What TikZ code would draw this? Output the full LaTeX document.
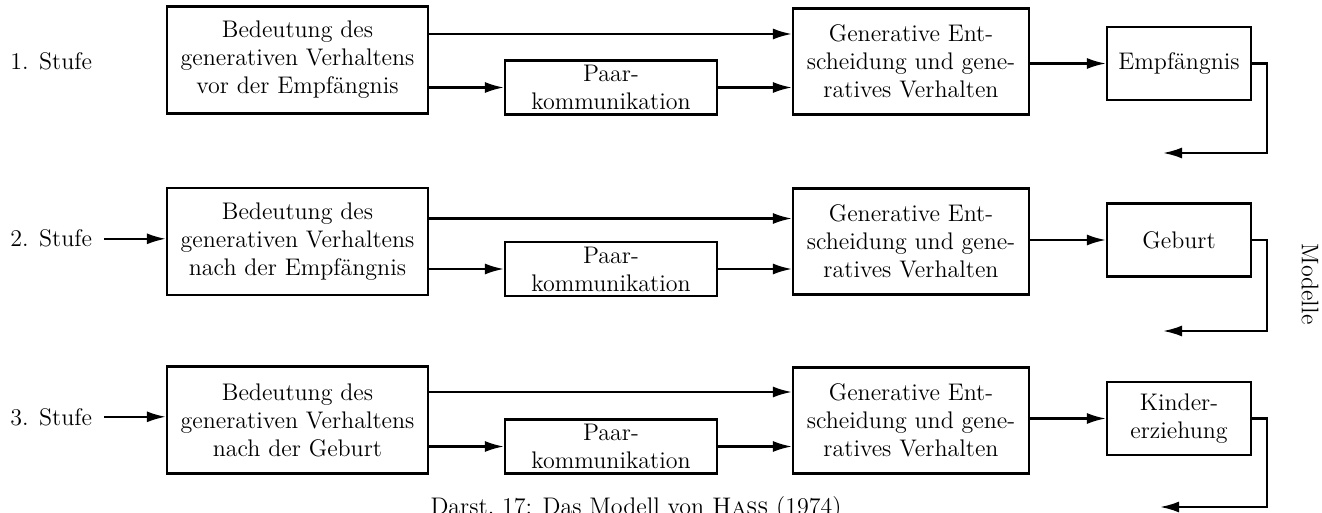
\documentclass[tikz,border=0pt]{standalone}
\usepackage{tikz}
\usetikzlibrary{positioning, arrows.meta}

\begin{document}
\begin{tikzpicture}[x=0.5pt, y=-0.5pt, >={Latex[length=9.5pt,width=5.5pt]},
    every node/.style={font=\fontsize{12}{14}\selectfont},
    box/.style={draw, line width=1.1pt, align=center, inner sep=2pt},
    bed/.style={box, minimum width=130.5pt, minimum height=53.5pt},
    paar/.style={box, minimum width=106pt, minimum height=27pt, inner sep=0pt},
    ent/.style={box, minimum width=118pt, minimum height=53pt},
    res/.style={box, minimum width=72pt, minimum height=36.5pt},
    stufe/.style={anchor=base west, inner sep=0pt},
    flow/.style={->, line width=1.1pt}]

  \useasboundingbox (0,0) rectangle (1322,513);

  % 1. Stufe
  \node[stufe] (S1) at (10,70) {1. Stufe};
  \node[bed] (A1) at (297.5,60) {Bedeutung des\\generativen Verhaltens\\vor der Empfängnis};
  \node[paar] (P1) at (611,87.5) {Paar-\\kommunikation};
  \node[ent] (C1) at (911,61.5) {Generative Ent-\\scheidung und gene-\\ratives Verhalten};
  \node[res] (E1) at (1179,63.5) {Empfängnis};
  \coordinate (R1) at (1163,153);
  \draw[flow] ([yshift=13pt]A1.east) -- ([yshift=13pt]A1.east -| C1.west);
  \draw[flow] (A1.east |- P1.west) -- (P1.west);
  \draw[flow] (P1.east) -- (P1.east -| C1.west);
  \draw[flow] (C1.east |- E1.west) -- (E1.west);
  \draw[flow] (E1.east) -- ++(7.5pt,0) |- (R1);

  % 2. Stufe
  \node[stufe] (S2) at (10,247) {2. Stufe};
  \node[bed] (A2) at (297.5,241.5) {Bedeutung des\\generativen Verhaltens\\nach der Empfängnis};
  \node[paar] (P2) at (611,269) {Paar-\\kommunikation};
  \node[ent] (C2) at (911,241.5) {Generative Ent-\\scheidung und gene-\\ratives Verhalten};
  \node[res] (E2) at (1179,240) {Geburt};
  \coordinate (R2) at (1163,331);
  \draw[flow, shorten <=6pt] (S2.east) -- (S2.east -| A2.west);
  \draw[flow] ([yshift=11.5pt]A2.east) -- ([yshift=11.5pt]A2.east -| C2.west);
  \draw[flow] (A2.east |- P2.west) -- (P2.west);
  \draw[flow] (P2.east) -- (P2.east -| C2.west);
  \draw[flow] (C2.east |- E2.west) -- (E2.west);
  \draw[flow] (E2.east) -- ++(7.5pt,0) |- (R2);

  % 3. Stufe
  \node[stufe] (S3) at (10,425) {3. Stufe};
  \node[bed] (A3) at (297.5,420) {Bedeutung des\\generativen Verhaltens\\nach der Geburt};
  \node[paar] (P3) at (611,446.5) {Paar-\\kommunikation};
  \node[ent] (C3) at (911,420.5) {Generative Ent-\\scheidung und gene-\\ratives Verhalten};
  \node[res] (E3) at (1179,418.5) {Kinder-\\erziehung};
  \coordinate (R3) at (1160,507);
  \draw[flow, shorten <=6pt] (S3.east) -- (S3.east -| A3.west);
  \draw[flow] ([yshift=14pt]A3.east) -- ([yshift=14pt]A3.east -| C3.west);
  \draw[flow] (A3.east |- P3.west) -- (P3.west);
  \draw[flow] (P3.east) -- (P3.east -| C3.west);
  \draw[flow] (C3.east |- E3.west) -- (E3.west);
  \draw[flow] (E3.east) -- ++(7.5pt,0) |- (R3);

  \node[rotate=-90] (M) at (1310,284) {Modelle};
  \node[anchor=base] (cap) at (636,514) {Darst.\ 17: Das Modell von \textsc{Hass} (1974)};
\end{tikzpicture}
\end{document}
